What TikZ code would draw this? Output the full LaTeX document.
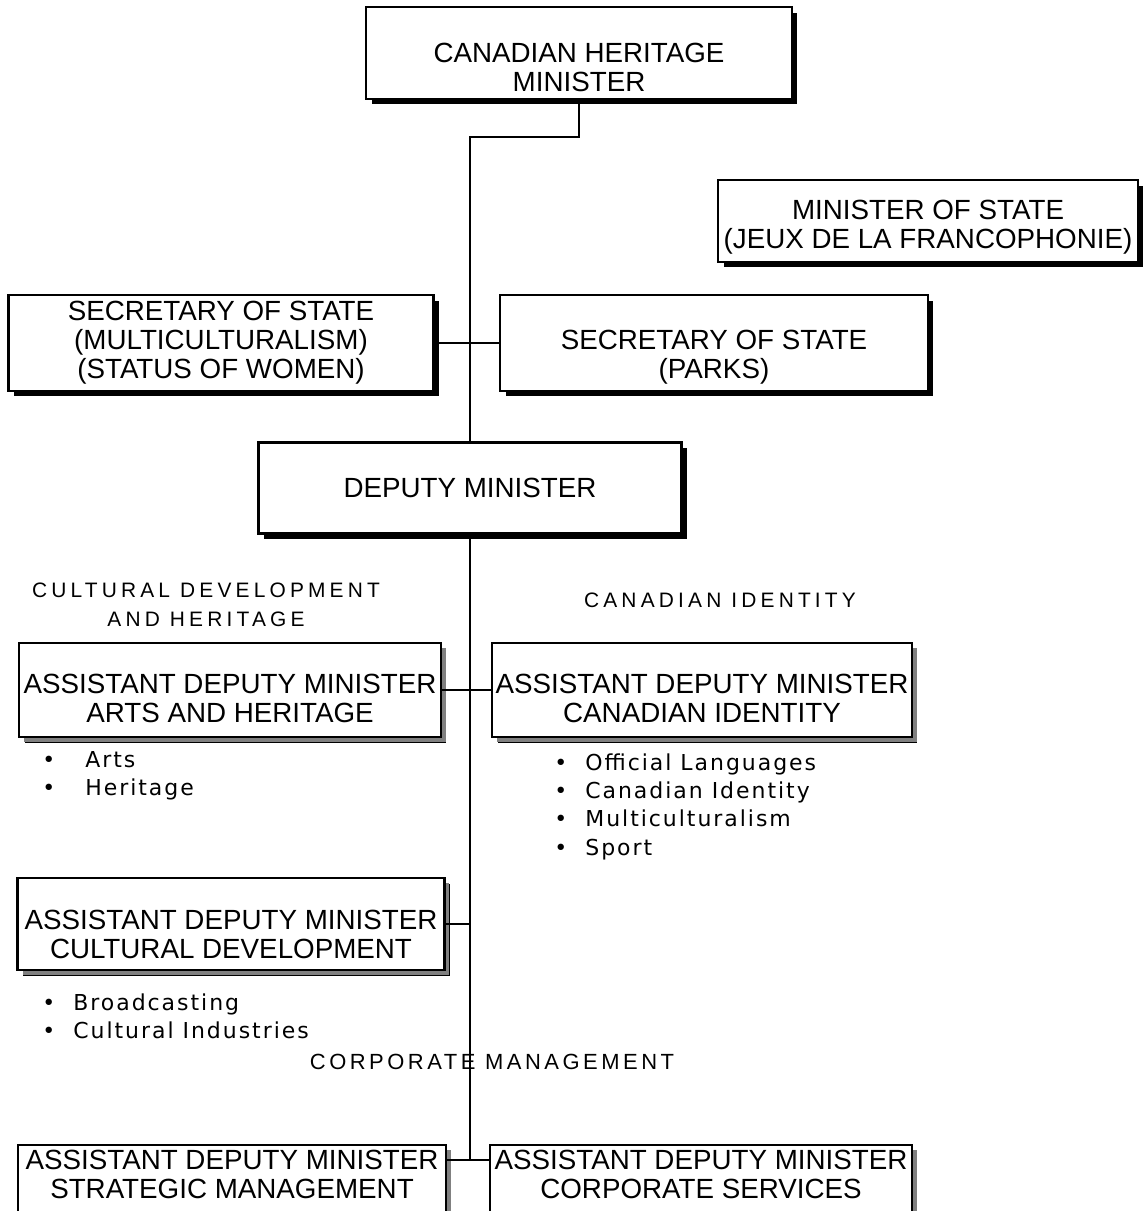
\documentclass[tikz,border=0pt]{standalone}
\usepackage{fontspec}
\setmainfont{Liberation Sans}
\newfontfamily\listfont[LetterSpace=9]{DejaVu Sans}
\newfontfamily\labelfont[LetterSpace=20]{Liberation Sans}
\newfontfamily\corpfont[LetterSpace=16]{Liberation Sans}
\usetikzlibrary{shadows}
\newcommand{\bul}[1]{\makebox[#1][l]{•}}
\newcommand{\up}[1]{\rule{0pt}{#1}}
\newcommand{\dn}[1]{\rule[-#1]{0pt}{#1}}
\begin{document}
\begin{tikzpicture}[x=0.02cm, y=-0.02cm,%
% common options for the upper boxes:
topbox/.style = {draw, line width=1.2pt, fill=white, align=center, inner sep=0,
            font=\fontsize{15.8}{16.5}\selectfont,
            drop shadow={shadow xshift=0.11cm, shadow yshift=-0.11cm, fill=black, opacity=1}},
% common options for the assistant deputy boxes:
admbox/.style = {topbox, minimum height=1.88cm,
            drop shadow={shadow xshift=0.1cm, shadow yshift=-0.1cm, fill=black!50, opacity=1}},
% common options for the texts:
sectlabel/.style = {align=center, inner sep=0, font=\labelfont\fontsize{11.9}{16.5}\selectfont},
bullets/.style = {align=left, anchor=north west, inner sep=0, font=\listfont\fontsize{12.5}{16.2}\selectfont}]
\useasboundingbox (0,0) rectangle (1147,1211);
\node[topbox, minimum width=8.52cm, minimum height=1.84cm] (chm) at (579,53) {\up{27.3pt}CANADIAN HERITAGE\\MINISTER};
\node[topbox, minimum width=8.4cm, minimum height=1.64cm] (mos) at (928,221) {\up{18.1pt}MINISTER OF STATE\\(JEUX DE LA FRANCOPHONIE)};
\node[topbox, minimum width=8.5cm, minimum height=1.92cm] (sosm) at (221,343) {SECRETARY OF STATE\\(MULTICULTURALISM)\\(STATUS OF WOMEN)};
\node[topbox, minimum width=8.56cm, minimum height=1.92cm] (sosp) at (714,343) {\up{27.3pt}SECRETARY OF STATE\\(PARKS)};
\node[topbox, minimum width=8.46cm, minimum height=1.82cm] (dm) at (470,488) {DEPUTY MINISTER};
\node[sectlabel] (lcult) at (206,605) {CULTURAL DEVELOPMENT\\AND HERITAGE};
\node[sectlabel] (lident) at (720,600) {CANADIAN IDENTITY};
\node[admbox, minimum width=8.44cm] (adma) at (230,690) {\up{20.4pt}ASSISTANT DEPUTY MINISTER\\ARTS AND HERITAGE};
\node[admbox, minimum width=8.4cm] (admi) at (702,690) {\up{20.4pt}ASSISTANT DEPUTY MINISTER\\CANADIAN IDENTITY};
\node[bullets] (la) at (42,751) {\bul{0.86cm}Arts\\\bul{0.86cm}Heritage};
\node[bullets] (li) at (554,753) {\bul{0.62cm}Official Languages\\\bul{0.62cm}Canadian Identity\\\bul{0.62cm}Multiculturalism\\\bul{0.62cm}Sport};
\node[admbox, minimum width=8.54cm, minimum height=1.84cm] (admc) at (231,924) {\up{22.7pt}ASSISTANT DEPUTY MINISTER\\CULTURAL DEVELOPMENT};
\node[bullets] (lc) at (42,993) {\bul{0.62cm}Broadcasting\\\bul{0.62cm}Cultural Industries};
\node[inner sep=0, font=\corpfont\fontsize{12.5}{15}\selectfont] (lcorp) at (492,1062) {CORPORATE MANAGEMENT};
\node[admbox, minimum width=8.56cm, minimum height=1.36cm] (adms) at (232,1179) {ASSISTANT DEPUTY MINISTER\\STRATEGIC MANAGEMENT\dn{5.7pt}};
\node[admbox, minimum width=8.44cm, minimum height=1.36cm] (admcs) at (701,1179) {ASSISTANT DEPUTY MINISTER\\CORPORATE SERVICES\dn{5.7pt}};
\coordinate (jog) at (470,137);
\coordinate (tend) at (470,1160);
\draw[line width=1.2pt] (chm.south) |- (jog) -- (dm.north);
\draw[line width=1.2pt] (sosm.east) -- (sosp.west);
\draw[line width=1.2pt] (dm.south) -- (tend);
\draw[line width=1.2pt] (adma.east) -- (admi.west);
\draw[line width=1.2pt] (admc.east) -- (admc.east -| tend);
\draw[line width=1.2pt] (adms.east |- tend) -- (admcs.west |- tend);
\end{tikzpicture}
\end{document}
